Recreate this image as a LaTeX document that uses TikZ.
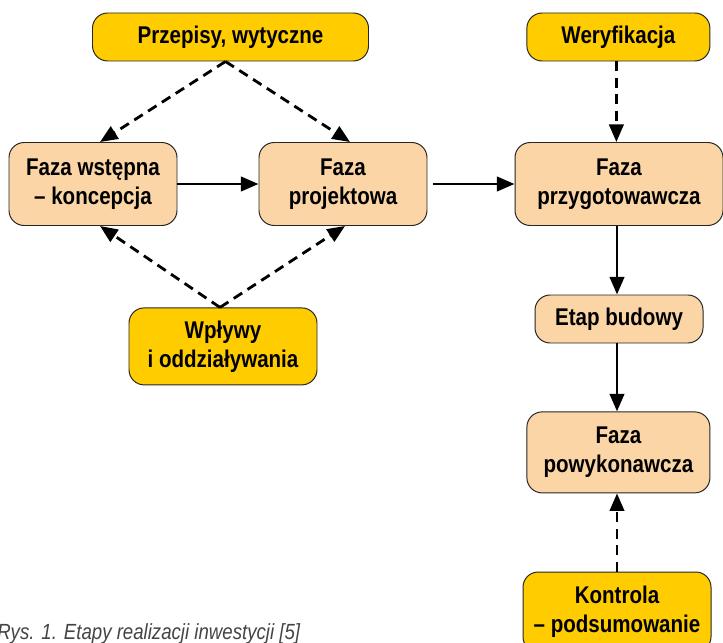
\documentclass[tikz,border=0pt]{standalone}
\usepackage{fontspec}
\setmainfont{Liberation Sans}[FakeStretch=0.85]
\usepackage{xcolor}
\usetikzlibrary{arrows.meta, positioning, calc}
\definecolor{rulegold}{HTML}{FFCC00}
\definecolor{phasepeach}{HTML}{FBD5A5}
\definecolor{captiongray}{HTML}{444444}

\tikzset{
  phasebox/.style={draw=black!85, line width=0.7pt, rounded corners=0.38cm, fill=phasepeach,
    align=center, inner sep=2pt, font=\bfseries\fontsize{17.2}{20.6}\selectfont},
  inputbox/.style={phasebox, fill=rulegold},
  flow/.style={line width=2pt, -{Triangle[length=0.44cm,width=0.36cm]}},
  influence/.style={flow, dash pattern=on 0.25cm off 0.16cm}
}

\begin{document}
\begin{tikzpicture}
  \useasboundingbox (0,0) rectangle (18.075,-16.05);

  % Inputs
  \node[inputbox, minimum width=6.9cm, minimum height=1.2cm] (przepisy) at (5.7625,-0.925) {Przepisy, wytyczne};
  \node[inputbox, minimum width=4.575cm, minimum height=1.2cm] (weryfikacja) at (15.46,-0.925) {Weryfikacja};
  \node[inputbox, minimum width=4.7cm, minimum height=1.925cm] (wplywy) at (5.575,-8.66) {Wpływy\\i oddziaływania};
  \node[inputbox, minimum width=4.7cm, minimum height=2.0cm] (kontrola) at (15.425,-15.3) {Kontrola\\– podsumowanie};

  % Phases
  \node[phasebox, minimum width=4.2cm, minimum height=2.075cm] (wstepna) at (2.325,-4.6) {Faza wstępna\\– koncepcja};
  \node[phasebox, minimum width=4.2cm, minimum height=2.075cm] (projektowa) at (8.575,-4.6) {Faza\\projektowa};
  \node[phasebox, minimum width=5.2cm, minimum height=2.075cm] (przygot) at (15.475,-4.6) {Faza\\przygotowawcza};
  \node[phasebox, minimum width=4.2cm, minimum height=1.2cm] (budowa) at (15.475,-7.975) {Etap budowy};
  \node[phasebox, minimum width=4.575cm, minimum height=2.025cm] (powykon) at (15.46,-11.31) {Faza\\powykonawcza};

  % Main flow
  \draw[flow] (wstepna.east) -- (projektowa.west);
  \draw[flow, shorten <=0.15cm] (projektowa.east) -- (przygot.west);
  \draw[flow] ([xshift=-0.05cm]przygot.south) -- ([xshift=-0.05cm]przygot.south |- budowa.north);
  \draw[flow] ([xshift=-0.05cm]budowa.south) -- ([xshift=-0.05cm]budowa.south |- powykon.north);

  % Influences
  \draw[influence] ([xshift=-0.125cm]przepisy.south) -- ([xshift=0.175cm]wstepna.north);
  \draw[influence] ([xshift=-0.125cm]przepisy.south) -- ([xshift=0.175cm]projektowa.north);
  \draw[influence] ([xshift=-0.075cm]wplywy.north) -- ([xshift=0.175cm]wstepna.south);
  \draw[influence] ([xshift=-0.075cm]wplywy.north) -- ([xshift=0.05cm]projektowa.south);
  \draw[influence] ([xshift=-0.05cm]weryfikacja.south) -- ([xshift=-0.05cm]weryfikacja.south |- przygot.north);
  \draw[influence] (kontrola.north) -- (kontrola.north |- powykon.south);

  % Caption
  \node[anchor=base west, inner sep=0pt, captiongray, font=\itshape\fontsize{15.6}{18}\selectfont] (podpis) at (-0.075,-15.98) {Rys. 1. Etapy realizacji inwestycji [5]};
\end{tikzpicture}
\end{document}
